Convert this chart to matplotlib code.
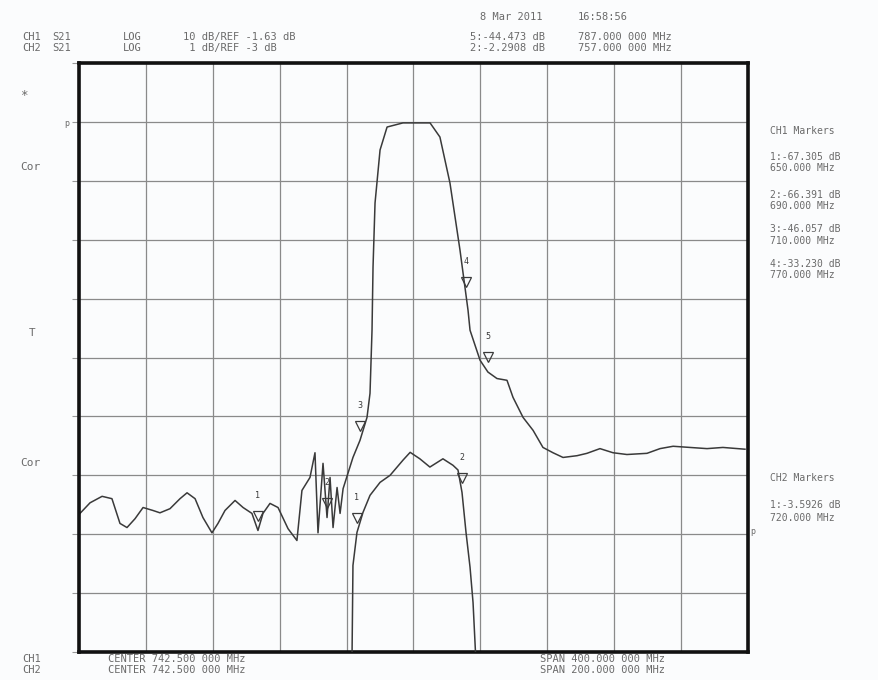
import matplotlib.pyplot as plt
import numpy as np

# CH1: S21 LOG, 10 dB/div, REF -1.63 dB, center 742.5 MHz, span 400 MHz
ch1_freq = [543.1, 549.1, 556.3, 562.2, 567.0, 571.2, 576.0, 580.8, 586.7, 590.9,
            596.9, 602.9, 607.1, 611.9, 616.6, 622.0, 625.6, 629.8, 635.8, 640.6,
            645.9, 649.5, 652.5, 656.7, 661.5, 667.5, 672.8, 675.8, 680.6, 683.6,
            685.4, 688.4, 690.8, 692.6, 694.4, 696.8, 698.6, 700.4, 706.3, 710.5,
            714.7, 716.5, 717.7, 718.3, 719.5, 722.5, 726.7, 736.2, 752.4, 758.3,
            764.3, 770.3, 775.1, 776.3, 782.3, 787.0, 792.4, 798.4, 802.0, 808.0,
            814.0, 819.9, 825.9, 831.9, 840.3, 846.2, 854.0, 861.8, 870.1, 882.1,
            889.9, 897.7, 907.8, 918.0, 927.5, 940.7]
ch1_db = [-68.1, -66.3, -65.2, -65.6, -69.8, -70.5, -69.0, -67.1, -67.6, -68.0,
          -67.3, -65.6, -64.6, -65.6, -68.8, -71.4, -69.8, -67.6, -65.9, -67.1,
          -68.1, -71.0, -68.1, -66.4, -67.1, -70.7, -72.7, -64.2, -62.0, -57.8,
          -71.4, -59.6, -68.8, -62.0, -70.5, -63.7, -68.1, -63.9, -58.6, -55.7,
          -51.8, -47.7, -37.0, -26.3, -15.4, -6.4, -2.5, -1.8, -1.8, -4.2,
          -12.0, -23.4, -33.6, -37.0, -42.1, -44.1, -45.2, -45.5, -48.4, -51.8,
          -54.0, -56.9, -57.8, -58.6, -58.3, -57.9, -57.1, -57.8, -58.1, -57.9,
          -57.1, -56.7, -56.9, -57.1, -56.9, -57.2]

# CH2: S21 LOG, 1 dB/div, REF -3 dB, center 742.5 MHz, span 200 MHz
ch2_freq = [724.1, 724.4, 725.6, 727.4, 729.5, 732.5, 735.5, 739.4, 741.5, 744.4,
            747.4, 751.3, 754.3, 755.8, 757.0, 758.2, 759.4, 760.3, 761.2]
ch2_db = [-5.2, -3.53, -2.97, -2.63, -2.34, -2.12, -2.00, -1.74, -1.61, -1.72,
          -1.86, -1.72, -1.83, -1.91, -2.29, -2.97, -3.56, -4.16, -5.2]

ch1_markers = [649.5, 690.8, 710.5, 774.0, 787.0]
ch1_marker_names = ['1', '2', '3', '4', '5']
ch2_markers = [725.6, 757.0]
ch2_marker_names = ['1', '2']

W, H = 879, 680
ink = '#3a3a3a'
txt = '#6a6a6a'

fig = plt.figure(figsize=(W / 100, H / 100), dpi=100)
fig.patch.set_facecolor('#fbfcfd')

def pos(x, y):
    return x / W, 1 - y / H

box = [79 / W, 1 - 652 / H, 669 / W, 589 / H]
ax = fig.add_axes(box)
ax.set_facecolor('#fbfcfd')
ax.set_xlim(542.5, 942.5)
ax.set_ylim(-91.63, 8.37)
ax.set_xticks(np.arange(542.5, 943, 40))
ax.set_yticks(np.arange(-91.63, 9, 10))
ax.set_xticklabels([])
ax.set_yticklabels([])
ax.tick_params(axis='x', length=0)
ax.tick_params(axis='y', direction='out', length=5, color='#999999', width=0.8)
ax.grid(True, color='#8a8a8a', linewidth=0.9)
for s in ax.spines.values():
    s.set_linewidth(2.6)
    s.set_color('#111111')
ax.plot(ch1_freq, ch1_db, color=ink, linewidth=1.1)
m1 = np.interp(ch1_markers, ch1_freq, ch1_db)
ax.plot(ch1_markers, m1 + 2.5, linestyle='none', marker='v', markersize=7,
        markerfacecolor='none', markeredgecolor=ink, markeredgewidth=0.9)
for f, d, n in zip(ch1_markers, m1, ch1_marker_names):
    ax.text(f, d + 6, n, fontsize=6, color=ink, ha='center', va='center',
            family='DejaVu Sans Mono')

ax2 = fig.add_axes(box, frameon=False)
ax2.set_xlim(642.5, 842.5)
ax2.set_ylim(-5, 5)
ax2.axis('off')
ax2.plot(ch2_freq, ch2_db, color=ink, linewidth=1.1)
m2 = np.interp(ch2_markers, ch2_freq, ch2_db)
ax2.plot(ch2_markers, m2 + 0.25, linestyle='none', marker='v', markersize=7,
         markerfacecolor='none', markeredgecolor=ink, markeredgewidth=0.9)
for f, d, n in zip(ch2_markers, m2, ch2_marker_names):
    ax2.text(f, d + 0.6, n, fontsize=6, color=ink, ha='center', va='center',
             family='DejaVu Sans Mono')

mono = dict(family='DejaVu Sans Mono', color=txt, va='center')
fs = 7.5
fig.text(*pos(480, 17), '8 Mar 2011', fontsize=fs, **mono)
fig.text(*pos(578, 17), '16:58:56', fontsize=fs, **mono)

header = [(22, 'CH1', 'CH2'), (52, 'S21', 'S21'), (123, 'LOG', 'LOG'),
          (183, '10 dB/REF -1.63 dB', ' 1 dB/REF -3 dB'),
          (470, '5:-44.473 dB', '2:-2.2908 dB'),
          (578, '787.000 000 MHz', '757.000 000 MHz')]
for x, a, b in header:
    fig.text(*pos(x, 37), a, fontsize=fs, **mono)
    fig.text(*pos(x, 48), b, fontsize=fs, **mono)

fig.text(*pos(20, 96), '*', fontsize=9, **mono)
fig.text(*pos(20, 167), 'Cor', fontsize=8, **mono)
fig.text(*pos(29, 333), 'T', fontsize=8, **mono)
fig.text(*pos(20, 463), 'Cor', fontsize=8, **mono)
fig.text(*pos(64, 124), 'p', fontsize=6, **mono)
fig.text(*pos(750, 532), 'p', fontsize=6, **mono)

right = [('CH1 Markers', 131), ('1:-67.305 dB', 157), ('650.000 MHz', 168),
         ('2:-66.391 dB', 195), ('690.000 MHz', 206), ('3:-46.057 dB', 229),
         ('710.000 MHz', 241), ('4:-33.230 dB', 264), ('770.000 MHz', 275),
         ('CH2 Markers', 478), ('1:-3.5926 dB', 505), ('720.000 MHz', 518)]
for s, y in right:
    fig.text(*pos(770, y), s, fontsize=7, **mono)

footer = [(22, 'CH1', 'CH2'),
          (108, 'CENTER 742.500 000 MHz', 'CENTER 742.500 000 MHz'),
          (540, 'SPAN 400.000 000 MHz', 'SPAN 200.000 000 MHz')]
for x, a, b in footer:
    fig.text(*pos(x, 659), a, fontsize=fs, **mono)
    fig.text(*pos(x, 670), b, fontsize=fs, **mono)

fig.savefig('out.png', dpi=100, facecolor=fig.get_facecolor())
